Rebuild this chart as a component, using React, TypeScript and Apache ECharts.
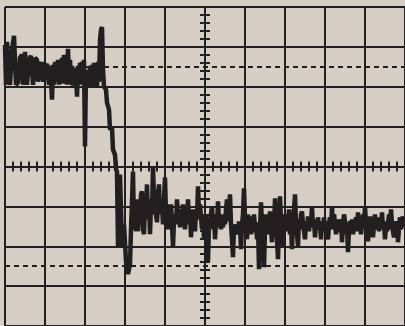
import React, { useEffect, useRef } from "react";
import * as echarts from "echarts";

// Scope trace, time in ns (trigger at 0, 40 ns/div), level in mV (40 mV/div)
const timeNs = [
  -200, -199, -198, -196, -195, -193, -191, -189, -187, -185, -183, -182, -180, -178, -176, -174, -172, -170,
  -168, -167, -166, -164, -163, -162, -160, -159, -158, -156, -155, -154, -153, -152, -151, -150, -149, -147,
  -146, -145, -144, -143, -142, -141, -140, -139, -138, -137, -136, -135, -134, -133, -132, -131, -130, -129,
  -128, -127, -126, -125, -124, -123, -122, -121, -120, -119, -118, -117, -116, -115, -114, -113, -112, -111,
  -110, -109, -108, -107, -106, -105, -104, -103, -102, -101, -99, -98, -96, -95, -93, -92, -90, -89, -88,
  -87, -85, -83, -81, -79, -77, -75, -74,
  -72, -71, -70, -69, -68, -67, -66, -65, -64, -63, -62, -61, -60, -59, -58, -57, -56, -55, -54, -53, -52,
  -51, -50, -49, -48, -47, -46, -45, -44, -43, -42, -41, -40, -39, -38, -37, -36, -35, -34, -33, -32, -31,
  -30, -29, -28, -27, -26, -25, -24, -23, -22, -21, -20, -19, -18, -17, -16, -15, -14, -13, -12, -11, -10,
  -9, -8, -7, -6, -5, -4, -3, -2, -1, 0, 1, 2, 3, 4, 5, 6, 7, 8, 9, 10, 11, 12, 13, 14, 15, 16, 17, 18, 19,
  20, 21, 22, 23, 24, 25, 26, 27, 28, 29, 30, 31, 32, 33, 34, 35, 36, 37, 38, 39, 40, 41, 42, 43, 44, 45, 46,
  47, 48, 49, 50, 51, 52, 53, 54, 55, 56, 57, 58, 59, 60, 61, 62, 63, 64, 65, 66, 67, 68, 69, 70, 71, 72, 73,
  74, 75, 76, 77, 78, 79, 80, 81, 82, 83, 84, 85, 86, 87, 88, 89, 90, 91, 92, 93, 94, 95, 96, 97, 98, 99, 100,
  101, 102, 103, 104, 105, 106, 107, 108, 109, 110, 111, 112, 113, 114, 115, 116, 117, 118, 119, 120, 121, 122,
  123, 124, 125, 126, 127, 128, 129, 130, 131, 132, 133, 134, 135, 136, 137, 138, 139, 140, 141, 142, 143, 144,
  145, 146, 147, 148, 149, 150, 151, 152, 153, 154, 155, 156, 157, 158, 159, 160, 161, 162, 163, 164, 165, 166,
  167, 168, 169, 170, 171, 172, 173, 174, 175, 176, 177, 178, 179, 180, 181, 182, 183, 184, 185, 186, 187, 188,
  189, 190, 191, 192, 193, 194, 195, 196, 197, 198, 199, 200,
];

const levelMv = [
  122, 82, 125, 87, 82, 117, 131, 82, 84, 109, 112, 82, 115, 82, 107, 111, 82, 109,
  107, 85, 105, 87, 105, 85, 104, 87, 103, 82, 101, 87, 67, 102, 82, 105, 85, 107,
  82, 105, 85, 109, 83, 112, 85, 107, 82, 118, 87, 107, 82, 101, 81, 99, 82, 97,
  70, 101, 82, 104, 85, 105, 82, 107, 20, 97, 82, 95, 79, 101, 82, 102, 79, 104,
  82, 101, 79, 105, 85, 127, 137, 140, 97, 80, 77, 64, 57, 37, 39, 17, 12, -3, -5,
  -80, -8, -80, -58, -95, -108, -98, -63,
  -5, -63, -33, -65, -48, -65, -33, -58, -28, -25, -63, -68, -38, -45, -18, -53, -33, -68, -38, -48, 0,
  -33, -23, -48, -56, -33, -18, -48, -33, -38, -58, -33, -11, -48, -38, -63, -43, -53, -38, -58, -81, -53,
  -48, -58, -33, -48, -43, -61, -43, -58, -38, -53, -63, -43, -58, -33, -53, -43, -71, -48, -58, -43, -65,
  -45, -53, -20, -48, -38, -51, -63, -48, -73, -53, -48, -65, -95, -58, -63, -48, -40, -58, -48, -73, -53, -61, -35, -55, -48, -63, -51, -61, -48,
  -58, -43, -33, -55, -43, -28, -58, -73, -91, -58, -68, -58, -63, -68, -55, -60, -83, -58, -48, -22, -53, -58, -73, -48, -63, -50, -68,
  -55, -66, -48, -61, -56, -73, -58, -103, -63, -36, -58, -78, -101, -63, -48, -68, -53, -65, -45, -63, -76, -53, -63, -32, -58, -73, -93,
  -58, -30, -55, -68, -81, -58, -48, -65, -53, -60, -43, -68, -58, -83, -53, -43, -28, -58, -68, -80, -53, -63, -48, -45, -58, -65, -73,
  -55, -63, -50, -65, -53, -58, -40, -61, -53, -71, -58, -63, -51, -61, -58, -73, -55, -63, -51, -65, -55, -68,
  -73, -58, -51, -63, -40, -61, -48, -56, -68, -53, -66, -58, -63, -53, -76, -58, -48, -55, -68, -58, -86, -63,
  -55, -65, -53, -68, -58, -61, -51, -65, -46, -63, -55, -68, -58, -48, -61, -40, -58, -65, -75, -58, -50, -63,
  -55, -71, -58, -48, -63, -58, -51, -65, -55, -61, -46, -63, -55, -73, -58, -65, -58, -48, -63, -43, -58, -65,
  -71, -55, -63, -55, -76, -61, -51, -63, -55, -50, -61, -53,
];

// Dotted reference levels, mV
const referenceLevelsMv = [100, -100];

const INK = "#231f20";
const PAPER = "#d6cec4";

export default function App() {
  const ref = useRef<HTMLDivElement>(null);

  useEffect(() => {
    document.body.style.margin = "0";
    const chart = echarts.init(ref.current!, undefined, { renderer: "svg" });
    const gridLine = { color: INK, width: 2 };

    // Graticule: split lines give the divisions, the axes pinned to zero carry the centre ticks
    const timeAxis = (position: "top" | "bottom", withGrid: boolean) => ({
      type: "value" as const,
      min: -200,
      max: 200,
      interval: 40,
      position,
      axisLine: { show: true, onZero: true, onZeroAxisIndex: 0, lineStyle: gridLine },
      axisTick: { show: true, inside: false, length: 5, lineStyle: gridLine },
      minorTick: { show: true, splitNumber: 5, length: 5, lineStyle: gridLine },
      axisLabel: { show: false },
      splitLine: { show: withGrid, lineStyle: gridLine },
    });
    const levelAxis = (position: "left" | "right", withGrid: boolean) => ({
      type: "value" as const,
      min: -160,
      max: 160,
      interval: 40,
      position,
      axisLine: { show: true, onZero: true, onZeroAxisIndex: 0, lineStyle: gridLine },
      axisTick: { show: true, inside: false, length: 5, lineStyle: gridLine },
      minorTick: { show: true, splitNumber: 5, length: 5, lineStyle: gridLine },
      axisLabel: { show: false },
      splitLine: { show: withGrid, lineStyle: gridLine },
    });

    chart.setOption({
      animation: false,
      backgroundColor: PAPER,
      grid: { left: 5, top: 7, width: 400, height: 320 },
      xAxis: [timeAxis("bottom", true), timeAxis("top", false)],
      yAxis: [levelAxis("left", true), levelAxis("right", false)],
      series: [
        {
          type: "line",
          xAxisIndex: 0,
          yAxisIndex: 0,
          data: timeNs.map((t, i) => [t, levelMv[i]]),
          showSymbol: false,
          silent: true,
          lineStyle: { color: INK, width: 4.5 },
          markLine: {
            silent: true,
            symbol: "none",
            label: { show: false },
            lineStyle: { color: INK, width: 2, type: [5, 4] },
            data: referenceLevelsMv.map((v) => ({ yAxis: v })),
          },
          z: 3,
        },
      ],
    });
    return () => chart.dispose();
  }, []);

  return <div ref={ref} style={{ width: 405, height: 326 }} />;
}
